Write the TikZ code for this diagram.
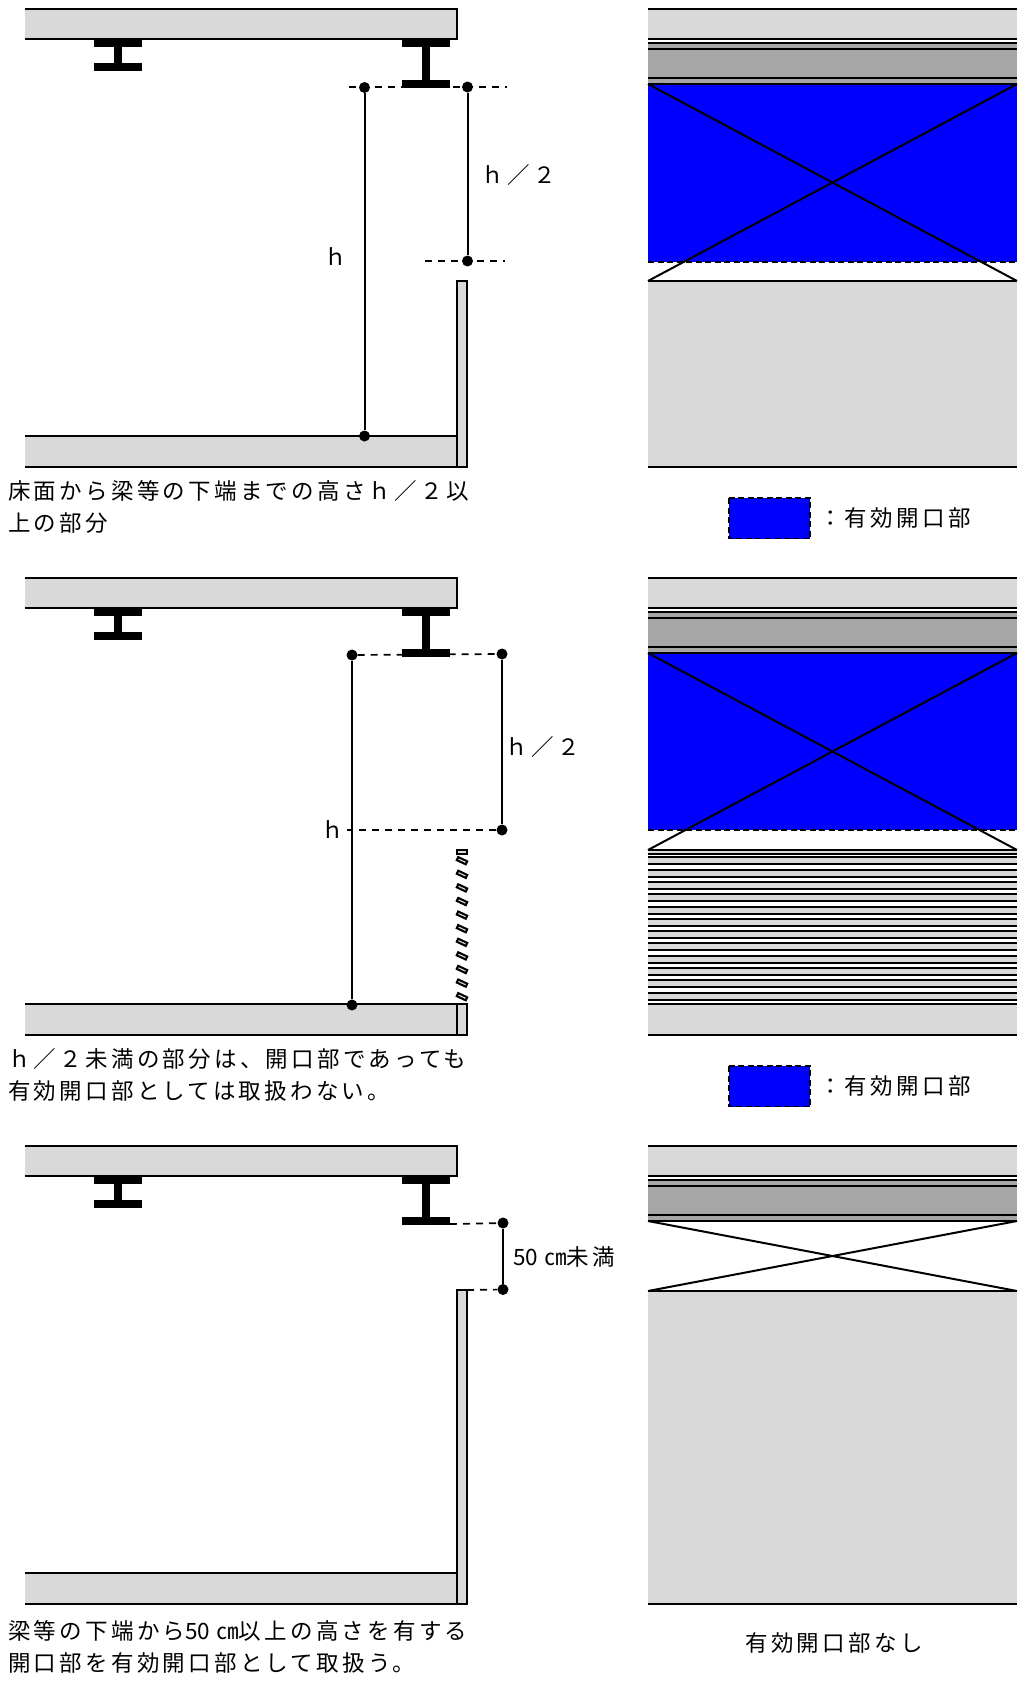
\documentclass[tikz,border=0pt]{standalone}
\usepackage{fontspec}
\newfontfamily\jpfont[LetterSpace=14.5]{Noto Sans CJK JP}
\newfontfamily\jpplain{Noto Sans CJK JP}
\newcommand{\fivecm}{{\jpplain 50\kern6pt ㎝}}
\newcommand{\hfull}{^^^^ff48}
\newcommand{\halfh}{^^^^ff48／^^^^ff12}
\definecolor{slabgray}{HTML}{D9D9D9}
\definecolor{beamgray}{HTML}{A6A6A6}
\definecolor{openblue}{HTML}{0000FF}
\tikzset{
	edge/.style={line width=2pt},
	dimline/.style={line width=2pt},
	dashline/.style={line width=1.7pt, dash pattern=on 7pt off 6pt},
	blueedge/.style={line width=1.7pt, dash pattern=on 6pt off 3.5pt},
	dot/.style={circle, fill=black, inner sep=0pt, minimum size=11pt},
	steel/.style={fill=black, draw=none},
	label/.style={font=\jpfont\fontsize{22.5pt}{22.5pt}\selectfont, inner sep=0pt},
	caption/.style={label, anchor=west},
}
\begin{document}
\begin{tikzpicture}[x=1pt, y=-1pt]
	\useasboundingbox (0,0) rectangle (1017,1686);
	% slab and beams of the section, right side bands of the elevation
	\foreach \dy in {0,569,1137} {
		\begin{scope}[shift={(0,\dy)}]
			\fill[slabgray] (25,9) rectangle (457,39);
			\draw[edge] (25,9) -- (457,9) -- (457,39) -- (25,39);
			\fill[steel] (94,40) rectangle (142,47);
			\fill[steel] (114,47) rectangle (122,63);
			\fill[steel] (94,63) rectangle (142,71);
			\fill[steel] (402,40) rectangle (450,47);
			\fill[steel] (422,47) rectangle (430,80);
			\fill[steel] (402,80) rectangle (450,88);
			% elevation
			\fill[slabgray] (648,9) rectangle (1017,39);
			\fill[beamgray] (648,43) rectangle (1017,84);
			\draw[edge] (648,9) -- (1017,9);
			\draw[edge] (648,39) -- (1017,39);
			\draw[edge] (648,43) -- (1017,43);
			\draw[edge] (648,49) -- (1017,49);
			\draw[edge] (648,78) -- (1017,78);
		\end{scope}
	}

	% first section
	\fill[slabgray] (25,436) rectangle (457,467);
	\draw[edge] (25,436) -- (457,436);
	\draw[edge] (25,467) -- (467,467);
	\draw[edge, fill=slabgray] (457,281) rectangle (467,467);
	\coordinate (dashAl) at (349,87);
	\coordinate (dashAr) at (507,87);
	\coordinate (dashBl) at (425,261);
	\coordinate (dashBr) at (505,261);
	\draw[dashline] (dashAl) -- (dashAr);
	\draw[dashline] (dashBl) -- (dashBr);
	\node[dot] (hTop) at (364.5,87.5) {};
	\node[dot] (hBot) at (364.5,436) {};
	\node[dot] (halfTop) at (467.5,87) {};
	\node[dot] (halfBot) at (467.5,261) {};
	\draw[dimline] (hTop) -- (hBot);
	\draw[dimline] (halfTop) -- (halfBot);
	\node[label] (hLabel) at (336,257) {\hfull};
	\node[label] (halfLabel) at (519,175) {\halfh};
	\node[caption] (capAa) at (8,491) {床面から梁等の下端までの高さ\halfh 以};
	\node[caption] (capAb) at (8,523) {上の部分};

	% first elevation
	\fill[openblue] (648,84) rectangle (1017,262);
	\fill[slabgray] (648,281) rectangle (1017,467);
	\draw[edge] (648,84) -- (1017,84);
	\draw[blueedge] (648,262) -- (1017,262);
	\draw[edge] (648,281) -- (1017,281);
	\draw[edge] (648,467) -- (1017,467);
	\draw[edge] (648,84) -- (1017,281);
	\draw[edge] (648,281) -- (1017,84);
	\draw[blueedge, fill=openblue] (729,498) rectangle (810,538.5);
	\node[label, anchor=west] (keyA) at (819,518) {：有効開口部};

	% second section
	\fill[slabgray] (25,1004) rectangle (457,1035);
	\draw[edge] (25,1004) -- (457,1004);
	\draw[edge] (25,1035) -- (467,1035);
	\draw[edge, fill=slabgray] (457,1004) rectangle (467,1035);
	\draw[edge, fill=slabgray] (457,850) rectangle (467,854);
	\foreach \i in {0,...,10} {
		\draw[edge, fill=slabgray, rotate around={-25:(462,860.7+13.6*\i)}] (457,859+13.6*\i) rectangle (467,862.4+13.6*\i);
	}
	\node[dot] (lowTop) at (352,655) {};
	\node[dot] (lowBot) at (352,1005) {};
	\node[dot] (midTop) at (502,654) {};
	\node[dot] (midBot) at (502,830) {};
	\coordinate (dashCl) at (346,830);
	\draw[dashline] (lowTop) -- (midTop);
	\draw[dashline] (dashCl) -- (midBot);
	\draw[dimline] (lowTop) -- (lowBot);
	\draw[dimline] (midTop) -- (midBot);
	\node[label, fill=white, inner xsep=3pt] (hLabelB) at (333,830) {\hfull};
	\node[label] (halfLabelB) at (543,747) {\halfh};
	\node[caption] (capBa) at (8,1059) {\halfh 未満の部分は、開口部であっても};
	\node[caption] (capBb) at (8,1091) {有効開口部としては取扱わない。};

	% second elevation
	\fill[openblue] (648,653) rectangle (1017,830);
	\fill[slabgray] (648,850) rectangle (1017,853);
	\foreach \i in {0,...,11} {
		\pgfmathsetmacro{\slatTop}{round(857.3+12.3*\i)}
		\fill[slabgray] (648,\slatTop) rectangle (1017,\slatTop+7);
		\draw[edge] (648,\slatTop) -- (1017,\slatTop);
		\draw[edge] (648,\slatTop+7) -- (1017,\slatTop+7);
	}
	\fill[slabgray] (648,1004) rectangle (1017,1035);
	\draw[edge] (648,653) -- (1017,653);
	\draw[blueedge] (648,830) -- (1017,830);
	\draw[edge] (648,850) -- (1017,850);
	\draw[edge] (648,854) -- (1017,854);
	\draw[edge] (648,1004) -- (1017,1004);
	\draw[edge] (648,1035) -- (1017,1035);
	\draw[edge] (648,653) -- (1017,850);
	\draw[edge] (648,850) -- (1017,653);
	\draw[blueedge, fill=openblue] (729,1066) rectangle (810,1106.5);
	\node[label, anchor=west] (keyB) at (819,1086) {：有効開口部};

	% third section
	\fill[slabgray] (25,1573) rectangle (457,1604);
	\draw[edge] (25,1573) -- (457,1573);
	\draw[edge] (25,1604) -- (467,1604);
	\draw[edge, fill=slabgray] (457,1290) rectangle (467,1604);
	\node[dot] (gapTop) at (503,1223) {};
	\node[dot] (gapBot) at (503,1289.5) {};
	\coordinate (dashDl) at (450,1224);
	\coordinate (dashEl) at (467,1290);
	\draw[dashline] (dashDl) -- (gapTop);
	\draw[dashline] (dashEl) -- (gapBot);
	\draw[dimline] (gapTop) -- (gapBot);
	\node[label, anchor=west] (gapLabel) at (513,1256.5) {\fivecm 未満};
	\node[caption] (capCa) at (8,1631) {梁等の下端から\fivecm 以上の高さを有する};
	\node[caption] (capCb) at (8,1663) {開口部を有効開口部として取扱う。};

	% third elevation
	\fill[slabgray] (648,1291) rectangle (1017,1604);
	\draw[edge] (648,1221) -- (1017,1221);
	\draw[edge] (648,1291) -- (1017,1291);
	\draw[edge] (648,1604) -- (1017,1604);
	\draw[edge] (648,1221) -- (1017,1291);
	\draw[edge] (648,1291) -- (1017,1221);
	\node[label] (noKey) at (834,1643) {有効開口部なし};
\end{tikzpicture}
\end{document}
